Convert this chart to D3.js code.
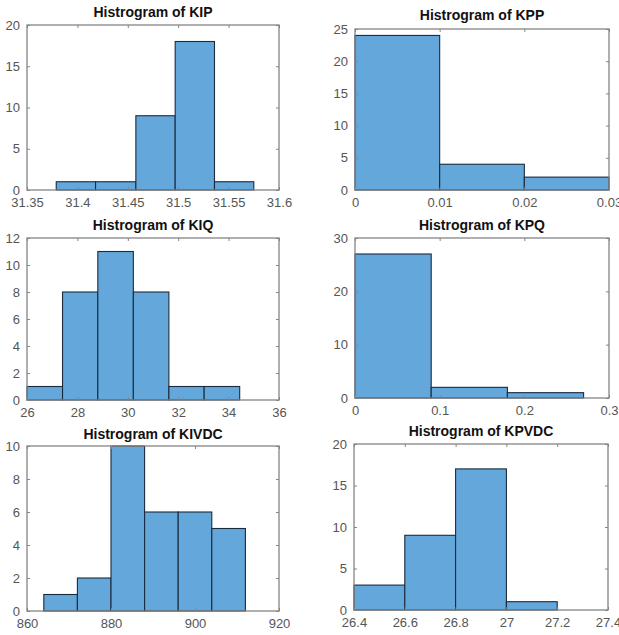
<!DOCTYPE html>
<html>
<head>
<meta charset="utf-8">
<script src="https://cdn.jsdelivr.net/npm/d3@7"></script>
<style>
  html, body { margin: 0; padding: 0; background: #fff; }
  svg { display: block; }
</style>
</head>
<body>
<svg id="chart" width="619" height="635"></svg>
<script>
// ---- data ----
const titles = ["Histrogram of KIP", "Histrogram of KPP", "Histrogram of KIQ", "Histrogram of KPQ", "Histrogram of KIVDC", "Histrogram of KPVDC"];

const kipEdges = [31.379, 31.418, 31.458, 31.497, 31.536, 31.575];
const kipCounts = [1, 1, 9, 18, 1];
const kipXTicks = [31.35, 31.4, 31.45, 31.5, 31.55, 31.6];
const kipYTicks = [0, 5, 10, 15, 20];

const kppEdges = [0, 0.01, 0.02, 0.03];
const kppCounts = [24, 4, 2];
const kppXTicks = [0, 0.01, 0.02, 0.03];
const kppYTicks = [0, 5, 10, 15, 20, 25];

const kiqEdges = [26.0, 27.41, 28.81, 30.22, 31.63, 33.03, 34.44];
const kiqCounts = [1, 8, 11, 8, 1, 1];
const kiqXTicks = [26, 28, 30, 32, 34, 36];
const kiqYTicks = [0, 2, 4, 6, 8, 10, 12];

const kpqEdges = [0, 0.09, 0.18, 0.27];
const kpqCounts = [27, 2, 1];
const kpqXTicks = [0, 0.1, 0.2, 0.3];
const kpqYTicks = [0, 10, 20, 30];

const kivdcEdges = [864, 872, 880, 888, 896, 904, 912];
const kivdcCounts = [1, 2, 10, 6, 6, 5];
const kivdcXTicks = [860, 880, 900, 920];
const kivdcYTicks = [0, 2, 4, 6, 8, 10];

const kpvdcEdges = [26.4, 26.6, 26.8, 27.0, 27.2];
const kpvdcCounts = [3, 9, 17, 1];
const kpvdcXTicks = [26.4, 26.6, 26.8, 27, 27.2, 27.4];
const kpvdcYTicks = [0, 5, 10, 15, 20];

// ---- layout (pixel boxes of each axes) ----
const panels = [
  { title: titles[0], edges: kipEdges, counts: kipCounts, xt: kipXTicks, yt: kipYTicks, box: [27, 25, 279, 190], ty: 17 },
  { title: titles[1], edges: kppEdges, counts: kppCounts, xt: kppXTicks, yt: kppYTicks, box: [355, 29, 609, 190], ty: 20 },
  { title: titles[2], edges: kiqEdges, counts: kiqCounts, xt: kiqXTicks, yt: kiqYTicks, box: [27, 238, 279, 400], ty: 230 },
  { title: titles[3], edges: kpqEdges, counts: kpqCounts, xt: kpqXTicks, yt: kpqYTicks, box: [355, 238, 609, 398], ty: 230 },
  { title: titles[4], edges: kivdcEdges, counts: kivdcCounts, xt: kivdcXTicks, yt: kivdcYTicks, box: [27, 446, 279, 611], ty: 439 },
  { title: titles[5], edges: kpvdcEdges, counts: kpvdcCounts, xt: kpvdcXTicks, yt: kpvdcYTicks, box: [354, 444, 608, 610], ty: 436 }
];

const svg = d3.select("#chart");
const font = "'Liberation Sans', Arial, Helvetica, sans-serif";
const barFill = "#64a7da";
const barStroke = "#1b2b3d";
const boxColor = "#858585";
const tickText = "#555555";

panels.forEach(p => {
  const [x0, y0, x1, y1] = p.box;
  const x = d3.scaleLinear().domain([p.xt[0], p.xt[p.xt.length - 1]]).range([x0, x1]);
  const y = d3.scaleLinear().domain([p.yt[0], p.yt[p.yt.length - 1]]).range([y1, y0]);
  const g = svg.append("g");

  // bars
  const bins = p.counts.map((c, i) => ({ a: p.edges[i], b: p.edges[i + 1], c }));
  g.selectAll("rect.bar").data(bins).enter().append("rect")
    .attr("class", "bar")
    .attr("x", d => x(d.a))
    .attr("y", d => y(d.c))
    .attr("width", d => x(d.b) - x(d.a))
    .attr("height", d => y(0) - y(d.c))
    .attr("fill", barFill)
    .attr("stroke", barStroke)
    .attr("stroke-width", 1.1);

  // axes (inward ticks)
  const fmt = d => String(+d.toFixed(4));
  const xAxis = d3.axisBottom(x).tickValues(p.xt).tickSize(-3).tickPadding(8).tickFormat(fmt);
  const yAxis = d3.axisLeft(y).tickValues(p.yt).tickSize(-3).tickPadding(7).tickFormat(fmt);
  const xTop = d3.axisTop(x).tickValues(p.xt).tickSize(-3).tickFormat("");
  const yRight = d3.axisRight(y).tickValues(p.yt).tickSize(-3).tickFormat("");

  const styleAxis = sel => {
    sel.select(".domain").remove();
    sel.selectAll(".tick line").attr("stroke", boxColor).attr("stroke-width", 1);
    sel.selectAll(".tick text").attr("fill", tickText).style("font-family", font).style("font-size", "13px");
  };
  g.append("g").attr("transform", `translate(0,${y1})`).call(xAxis).call(styleAxis);
  g.append("g").attr("transform", `translate(${x0},0)`).call(yAxis).call(styleAxis);
  g.append("g").attr("transform", `translate(0,${y0})`).call(xTop).call(styleAxis);
  g.append("g").attr("transform", `translate(${x1},0)`).call(yRight).call(styleAxis);

  // box
  g.append("rect")
    .attr("x", x0).attr("y", y0)
    .attr("width", x1 - x0).attr("height", y1 - y0)
    .attr("fill", "none").attr("stroke", boxColor).attr("stroke-width", 1.3);

  // title
  g.append("text")
    .attr("x", (x0 + x1) / 2).attr("y", p.ty)
    .attr("text-anchor", "middle")
    .style("font-family", font).style("font-size", "14px").style("font-weight", "bold")
    .attr("fill", "#111")
    .text(p.title);
});
</script>
</body>
</html>
